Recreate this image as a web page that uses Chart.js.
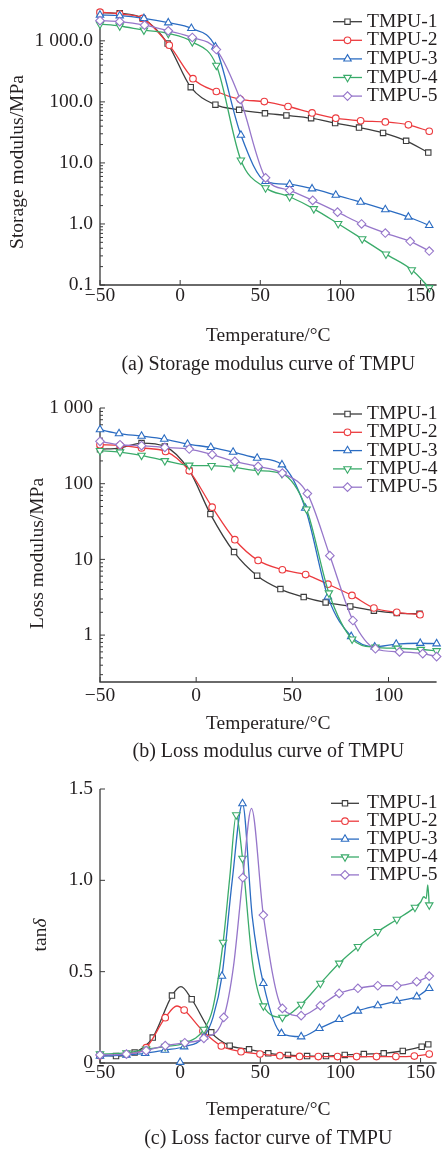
<!DOCTYPE html>
<html>
<head>
<meta charset="utf-8">
<script src="https://cdn.jsdelivr.net/npm/chart.js@4.4.1/dist/chart.umd.min.js"></script>
<style>
  html, body { margin: 0; padding: 0; background: #fff; }
  #wrap { position: relative; width: 442px; height: 1150px; }
  canvas { position: absolute; left: 0; }
</style>
</head>
<body>
<div id="wrap">
  <canvas id="chartA" width="442" height="380" style="top:0"></canvas>
  <canvas id="chartB" width="442" height="385" style="top:380px"></canvas>
  <canvas id="chartC" width="442" height="385" style="top:765px"></canvas>
</div>
<script>
// series names
const seriesNames = ['TMPU-1', 'TMPU-2', 'TMPU-3', 'TMPU-4', 'TMPU-5'];

// (a) storage modulus, MPa
const tA1 = [-50, -37.7, -23.3, -7.8, 6.6, 22, 36.8, 52.9, 66.3, 81.7, 96.7, 111.6, 126.6, 141, 154.8];
const eA1 = [2890, 2820, 2330, 904, 174, 90, 74, 65, 60, 54, 45, 38, 31, 23, 14.8];
const tA2 = [-50, -37.7, -23.3, -6.8, 8, 22.6, 37.5, 52.5, 67.3, 82.3, 97.1, 112.6, 128, 142.4, 155.4];
const eA2 = [2950, 2750, 2330, 848, 240, 148, 110, 101, 84, 66, 54, 49, 47, 42, 33];
const tA3 = [-50, -37.7, -22.6, -7.4, 7, 22, 37.9, 53.3, 68.3, 82.3, 97.1, 112.6, 128, 142.4, 155.4];
const eA3 = [2650, 2580, 2330, 1980, 1600, 796, 28.6, 5.0, 4.45, 3.78, 2.97, 2.28, 1.72, 1.30, 0.95];
const tA4 = [-50, -37.7, -22.6, -7.4, 7.6, 22.6, 37.9, 53.3, 68.3, 83.4, 98.6, 113.6, 128.4, 144.5, 155.4];
const eA4 = [1880, 1750, 1500, 1320, 963, 397, 11.1, 3.9, 2.79, 1.77, 1.01, 0.57, 0.32, 0.177, 0.090];
const tA5 = [-50, -37.7, -22.2, -7.4, 7.6, 22.6, 37.5, 53.3, 68.3, 82.7, 98.2, 113.2, 128, 143.5, 155.4];
const eA5 = [2140, 2060, 1810, 1460, 1135, 720, 110, 5.7, 3.55, 2.43, 1.56, 1.0, 0.71, 0.52, 0.36];

// (b) loss modulus, MPa
const tB1 = [-50, -39.6, -28.4, -16.3, -3.6, 7.4, 19.7, 31.7, 43.8, 55.9, 67.3, 80.1, 92.4, 104.3, 116.1];
const eB1 = [285, 296, 344, 311, 150, 39.7, 12.5, 6.1, 4.05, 3.18, 2.7, 2.39, 2.10, 1.95, 1.91];
const tB2 = [-50, -39.6, -28.4, -15.9, -3.6, 8.3, 20.1, 32.2, 44.8, 56.9, 68.5, 81, 92.4, 104.3, 116.4];
const eB2 = [327, 321, 296, 267, 148, 49, 18.2, 9.7, 7.3, 6.3, 4.7, 3.34, 2.28, 2.0, 1.86];
const tB3 = [-50, -40.1, -28.4, -16.6, -4.5, 7.6, 19.2, 31.7, 44.6, 56.7, 68.5, 80.6, 92.8, 104, 116.5, 125];
const eB3 = [518, 459, 426, 389, 334, 302, 262, 218, 178, 47.7, 3.2, 0.96, 0.70, 0.76, 0.78, 0.77];
const tB4 = [-50, -39.6, -28.4, -16.3, -3.6, 8, 19.7, 32.2, 44.6, 57.4, 69, 81.1, 93.2, 104.8, 116.8, 125];
const eB4 = [273, 262, 237, 201, 175, 173, 164, 149, 136, 46, 3.6, 0.885, 0.69, 0.67, 0.645, 0.62];
const tB5 = [-50, -39.6, -28.4, -16.3, -3.6, 8.3, 20.1, 32.2, 44.8, 57.8, 69.5, 81.5, 93.2, 105.7, 117.8, 125];
const eB5 = [363, 327, 318, 302, 287, 242, 197, 169, 138, 74, 11.2, 1.56, 0.66, 0.60, 0.57, 0.52];

// (c) loss factor tan delta
const tC1 = [-50, -40, -28.4, -17.1, -5.1, 0.5, 7.2, 19.4, 30.9, 43, 55, 67.3, 79.2, 91, 102.7, 114.6, 127, 138.9, 150.7, 154.8];
const dC1 = [0.044, 0.038, 0.057, 0.139, 0.369, 0.418, 0.349, 0.168, 0.095, 0.075, 0.053, 0.044, 0.038, 0.038, 0.044, 0.049, 0.053, 0.066, 0.089, 0.102];
const tC2 = [-50, -33.5, -21.2, -9.3, -2, 2.5, 14.2, 25.7, 38, 49.8, 62.2, 74.5, 86.2, 98.2, 110.1, 122.5, 134.6, 146.1, 155.4];
const dC2 = [0.04, 0.049, 0.084, 0.248, 0.312, 0.29, 0.175, 0.093, 0.062, 0.049, 0.04, 0.036, 0.035, 0.035, 0.035, 0.035, 0.035, 0.038, 0.049];
const tC3 = [-50, -33.5, -21.8, -9.5, 2.5, 14.8, 20.5, 26.1, 32.5, 38.9, 45, 51.9, 63.2, 75.5, 86.9, 99.2, 110.9, 123.3, 135.2, 147.6, 155.4];
const dC3 = [0.038, 0.044, 0.053, 0.071, 0.089, 0.144, 0.25, 0.476, 1.0, 1.42, 0.8, 0.436, 0.162, 0.144, 0.19, 0.239, 0.285, 0.314, 0.339, 0.363, 0.409];
const tC4 = [-50, -33.5, -21.2, -9.3, 2.5, 14.8, 20.4, 26.8, 31, 35, 38.9, 45, 51.9, 63.8, 75.5, 87.5, 99.2, 110.9, 123.3, 135.2, 146.5, 150, 152, 153.5, 154.5, 155.4];
const dC4 = [0.049, 0.055, 0.075, 0.09, 0.108, 0.184, 0.3, 0.66, 1.02, 1.358, 1.12, 0.56, 0.312, 0.25, 0.321, 0.436, 0.546, 0.637, 0.719, 0.786, 0.852, 0.88, 0.91, 0.9, 0.975, 0.865];
const tC5 = [-50, -33.5, -21.2, -9.3, 2.9, 14.8, 27.2, 33.3, 39.1, 44.5, 51.9, 63.8, 75.5, 87.5, 99.2, 110.9, 123.3, 135.2, 147.6, 155.4];
const dC5 = [0.044, 0.049, 0.068, 0.095, 0.111, 0.135, 0.25, 0.53, 1.015, 1.394, 0.81, 0.299, 0.259, 0.314, 0.381, 0.409, 0.423, 0.423, 0.445, 0.476];
// readings on the curve that carry no symbol
const plainC1 = [0.5];
const plainC2 = [-2];
const plainC3 = [20.5, 32.5, 45];
const plainC4 = [20.4, 31, 45, 150, 152, 153.5, 154.5];
const plainC5 = [33.3, 44.5];
// lone TMPU-3 symbol sitting on the axis
const tC3x = [0];
const dC3x = [0.004];

// axis ticks
const xTicksAC = [-50, 0, 50, 100, 150];
const xLabelsAC = ['\u221250', '0', '50', '100', '150'];
const xTicksB = [-50, 0, 50, 100];
const xLabelsB = ['\u221250', '0', '50', '100'];
const yTicksA = [0.1, 1, 10, 100, 1000];
const yLabelsA = ['0.1', '1.0', '10.0', '100.0', '1 000.0'];
const yTicksB = [1, 10, 100, 1000];
const yLabelsB = ['1', '10', '100', '1 000'];
const yTicksC = [0, 0.5, 1, 1.5];
const yLabelsC = ['0', '0.5', '1.0', '1.5'];

const colors = ['#3c3c3c', '#ec3a3e', '#2b6cc2', '#3aab6a', '#9676ca'];
const marks = [
  { style: 'rect', r: 3.8, rot: 0 },
  { style: 'circle', r: 3.3, rot: 0 },
  { style: 'triangle', r: 4.3, rot: 0 },
  { style: 'triangle', r: 4.3, rot: 180 },
  { style: 'rectRot', r: 4.3, rot: 0 }
];
const FONT = '"Liberation Serif", "Times New Roman", serif';
const FS = 19.5;
const INK = '#231f20';
const AXIS = '#3a3a3a';

function minorTicks(lo, hi) {
  const out = [];
  for (let e = Math.floor(Math.log10(lo)); e <= Math.ceil(Math.log10(hi)); e++) {
    for (let d = 2; d <= 9; d++) {
      const v = d * Math.pow(10, e);
      if (v >= lo && v <= hi) out.push(v);
    }
  }
  return out;
}

// same geometry as Chart.js point styles, for the legend
function drawMark(ctx, m, x, y, color) {
  ctx.save();
  ctx.strokeStyle = color;
  ctx.fillStyle = '#fff';
  ctx.lineWidth = 1.1;
  ctx.beginPath();
  if (m.style === 'rect') {
    const s = m.r * Math.SQRT1_2;
    ctx.rect(x - s, y - s, 2 * s, 2 * s);
  } else if (m.style === 'circle') {
    ctx.arc(x, y, m.r, 0, Math.PI * 2);
  } else if (m.style === 'triangle') {
    let a = m.rot * Math.PI / 180;
    ctx.moveTo(x + Math.sin(a) * m.r, y - Math.cos(a) * m.r);
    a += Math.PI * 2 / 3;
    ctx.lineTo(x + Math.sin(a) * m.r, y - Math.cos(a) * m.r);
    a += Math.PI * 2 / 3;
    ctx.lineTo(x + Math.sin(a) * m.r, y - Math.cos(a) * m.r);
    ctx.closePath();
  } else {
    ctx.moveTo(x - m.r, y);
    ctx.lineTo(x, y - m.r);
    ctx.lineTo(x + m.r, y);
    ctx.lineTo(x, y + m.r);
    ctx.closePath();
  }
  ctx.fill();
  ctx.stroke();
  ctx.restore();
}

function framePlugin(f) {
  return {
    id: 'frame',
    beforeDatasetsDraw(chart) {
      const { ctx, chartArea: a, scales: { x, y } } = chart;
      ctx.save();
      ctx.strokeStyle = AXIS;
      ctx.lineWidth = 1.3;
      ctx.beginPath();
      ctx.moveTo(a.left, a.top);
      ctx.lineTo(a.left, a.bottom);
      ctx.lineTo(a.right, a.bottom);
      ctx.stroke();
      ctx.lineWidth = 1;
      ctx.beginPath();
      const yt = (v, len) => {
        const p = y.getPixelForValue(v);
        ctx.moveTo(a.left, p);
        ctx.lineTo(a.left + len, p);
      };
      f.yTicks.forEach(v => yt(v, 5));
      (f.yMinor || []).forEach(v => yt(v, 3));
      f.xTicks.forEach(v => {
        const p = x.getPixelForValue(v);
        ctx.moveTo(p, a.bottom);
        ctx.lineTo(p, a.bottom - 5);
      });
      ctx.stroke();
      ctx.restore();
    },
    afterDraw(chart) {
      const { ctx, chartArea: a, scales: { x, y } } = chart;
      ctx.save();
      ctx.fillStyle = INK;
      ctx.font = FS + 'px ' + FONT;
      ctx.textBaseline = 'middle';
      ctx.textAlign = 'right';
      f.yTicks.forEach((v, i) => ctx.fillText(f.yLabels[i], 93, y.getPixelForValue(v)));
      ctx.textAlign = 'center';
      f.xTicks.forEach((v, i) => ctx.fillText(f.xLabels[i], x.getPixelForValue(v), f.xLabelY));
      const mid = (a.left + a.right) / 2;
      ctx.fillText('Temperature/\u00b0C', mid, f.xTitleY);
      ctx.font = '20px ' + FONT;
      ctx.fillText(f.caption, mid, f.captionY);

      // rotated y title
      ctx.save();
      ctx.translate(f.yTitleX, f.yTitleY);
      ctx.rotate(-Math.PI / 2);
      if (f.yTitle === 'tan') {
        ctx.font = FS + 'px ' + FONT;
        const w1 = ctx.measureText('tan').width;
        ctx.font = 'italic ' + FS + 'px ' + FONT;
        const w2 = ctx.measureText('\u03b4').width;
        ctx.textAlign = 'left';
        ctx.font = FS + 'px ' + FONT;
        ctx.fillText('tan', -(w1 + w2) / 2, 0);
        ctx.font = 'italic ' + FS + 'px ' + FONT;
        ctx.fillText('\u03b4', -(w1 + w2) / 2 + w1, 0);
      } else {
        ctx.font = FS + 'px ' + FONT;
        ctx.fillText(f.yTitle, 0, 0);
      }
      ctx.restore();

      // legend
      ctx.font = FS + 'px ' + FONT;
      ctx.textAlign = 'left';
      seriesNames.forEach((name, i) => {
        const ly = f.legY + i * f.legDy;
        ctx.strokeStyle = colors[i];
        ctx.lineWidth = 1.3;
        ctx.beginPath();
        ctx.moveTo(f.legX1, ly);
        ctx.lineTo(f.legX2, ly);
        ctx.stroke();
        drawMark(ctx, marks[i], (f.legX1 + f.legX2) / 2, ly, colors[i]);
        ctx.fillStyle = INK;
        ctx.fillText(name, 367, ly);
      });
      ctx.restore();
    }
  };
}

function build(id, T, V, plain, cfg) {
  const datasets = T.map((t, i) => ({
    label: seriesNames[i],
    data: t.map((tx, k) => ({ x: tx, y: V[i][k] })),
    borderColor: colors[i],
    borderWidth: 1.3,
    pointStyle: marks[i].style,
    pointRotation: marks[i].rot,
    pointRadius: c => plain[i].includes(t[c.dataIndex]) ? 0 : marks[i].r,
    pointBorderWidth: 1.1,
    pointBorderColor: colors[i],
    pointBackgroundColor: '#fff',
    cubicInterpolationMode: 'monotone',
    clip: false,
    order: T.length - i
  }));
  (cfg.extra || []).forEach(d => datasets.push(d));
  return new Chart(document.getElementById(id), {
    type: 'line',
    data: { datasets },
    options: {
      responsive: false,
      animation: false,
      devicePixelRatio: 1,
      layout: { padding: cfg.pad },
      plugins: { legend: { display: false }, tooltip: { enabled: false } },
      scales: {
        x: { type: 'linear', min: cfg.x[0], max: cfg.x[1], display: false },
        y: { type: cfg.log ? 'logarithmic' : 'linear', min: cfg.y[0], max: cfg.y[1], display: false }
      }
    },
    plugins: [framePlugin(cfg.frame)]
  });
}

build('chartA', [tA1, tA2, tA3, tA4, tA5], [eA1, eA2, eA3, eA4, eA5], [[], [], [], [], []], {
  pad: { left: 100, right: 2, top: 10, bottom: 95 },
  x: [-50, 160], y: [0.1, 3200], log: true,
  frame: {
    yTicks: yTicksA, yLabels: yLabelsA, yMinor: minorTicks(0.1, 3200),
    xTicks: xTicksAC, xLabels: xLabelsAC, xLabelY: 296,
    xTitleY: 335.5, caption: '(a) Storage modulus curve of TMPU', captionY: 365,
    yTitle: 'Storage modulus/MPa', yTitleX: 18, yTitleY: 162,
    legY: 21.7, legDy: 18.6, legX1: 333, legX2: 362
  }
});

build('chartB', [tB1, tB2, tB3, tB4, tB5], [eB1, eB2, eB3, eB4, eB5], [[], [], [], [], []], {
  pad: { left: 100, right: 2, top: 28, bottom: 83 },
  x: [-50, 125], y: [0.24, 1000], log: true,
  frame: {
    yTicks: yTicksB, yLabels: yLabelsB, yMinor: minorTicks(0.24, 1000),
    xTicks: xTicksB, xLabels: xLabelsB, xLabelY: 316,
    xTitleY: 344, caption: '(b) Loss modulus curve of TMPU', captionY: 371.5,
    yTitle: 'Loss modulus/MPa', yTitleX: 37.5, yTitleY: 173.5,
    legY: 34, legDy: 18.3, legX1: 333, legX2: 362
  }
});

build('chartC', [tC1, tC2, tC3, tC4, tC5], [dC1, dC2, dC3, dC4, dC5], [plainC1, plainC2, plainC3, plainC4, plainC5], {
  pad: { left: 100, right: 2, top: 24, bottom: 87 },
  x: [-50, 160], y: [0, 1.5], log: false,
  extra: [{
    data: tC3x.map((t, k) => ({ x: t, y: dC3x[k] })),
    showLine: false,
    pointStyle: 'triangle',
    pointRadius: 4.3,
    pointBorderWidth: 1.1,
    pointBorderColor: colors[2],
    pointBackgroundColor: '#fff',
    clip: false,
    order: 10
  }],
  frame: {
    yTicks: yTicksC, yLabels: yLabelsC,
    xTicks: xTicksAC, xLabels: xLabelsAC, xLabelY: 308,
    xTitleY: 344.7, caption: '(c) Loss factor curve of TMPU', captionY: 373.3,
    yTitle: 'tan', yTitleX: 41, yTitleY: 170,
    legY: 38.3, legDy: 17.9, legX1: 331, legX2: 359
  }
});
</script>
</body>
</html>
